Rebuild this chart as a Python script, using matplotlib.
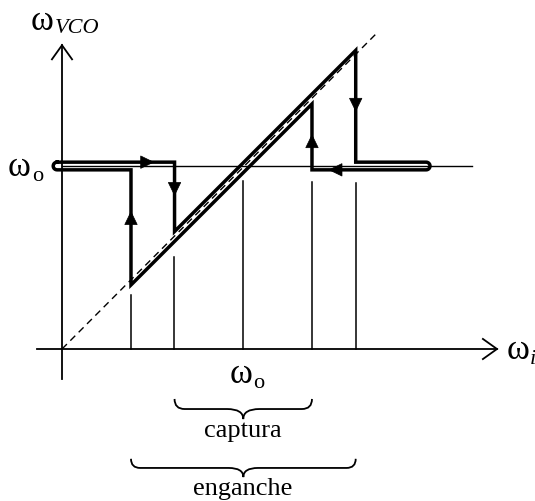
import numpy as np
import matplotlib
matplotlib.use("Agg")
import matplotlib.pyplot as plt
from matplotlib.patches import Polygon, PathPatch
from matplotlib.path import Path

# values in units of the free-running frequency (w0 = 1)
w0 = 1.0
lock = [0.377, 1.605]      # enganche
capture = [0.615, 1.366]   # captura
guide_x = [0.377, 0.612, 0.99, 1.366, 1.607]
guide_top = [0.295, 0.503, 0.918, 0.913, 0.905]
sweep_end = [-0.027, 1.99]  # hairpin ends of the w0 plateau
dh = 0.021                  # half gap between forward / reverse branches
dd = 0.027                  # offset of the branches from the ideal line

PX = 183.0  # pixels per unit
plt.rcParams['font.family'] = ['Liberation Serif', 'DejaVu Serif']

fig = plt.figure(figsize=(5.35, 5.02), dpi=100)
ax = fig.add_axes([0, 0, 1, 1])
ax.set_xlim(-62 / PX, (535 - 62) / PX)
ax.set_ylim(-(502 - 350) / PX, 350 / PX)
ax.axis('off')

def tri(tip, d, L=0.07, W=0.034):
    tip = np.array(tip); d = np.array(d, float)
    n = np.array([-d[1], d[0]])
    base = tip - L * d
    pts = [tip, base + W * n, base - W * n]
    ax.add_patch(Polygon(pts, closed=True, fc='black', ec='black', lw=0.5, zorder=5))

def open_head(tip, d, L=0.077, W=0.055):
    tip = np.array(tip); d = np.array(d, float)
    n = np.array([-d[1], d[0]])
    base = tip - L * d
    ax.plot([base[0] + W * n[0], tip[0], base[0] - W * n[0]],
            [base[1] + W * n[1], tip[1], base[1] - W * n[1]], color='black', lw=1.3,
            solid_joinstyle='miter')

# axes
ax.plot([-0.137, 2.377], [0, 0], color='black', lw=1.3)
open_head((2.377, 0), (1, 0))
ax.plot([0, 0], [-0.164, 1.66], color='black', lw=1.3)
open_head((0, 1.66), (0, 1))

# w0 reference line
ax.plot([0, 2.24], [w0, w0], color='black', lw=1.0)

# ideal line w_vco = w_i
ax.plot([0, 1.727], [0, 1.733], color='black', lw=1.0, ls=(0, (5, 3.5)))

# guide lines
for gx, gt in zip(guide_x, guide_top):
    ax.plot([gx, gx], [0, gt], color='black', lw=1.1)

# closed hairpin path: forward sweep (upper) then reverse sweep (lower)
t = np.linspace(np.pi / 2, -np.pi / 2, 12)
r = dh
right_arc = np.c_[sweep_end[1] + r * np.cos(t), w0 + r * np.sin(t)]
left_arc = np.c_[sweep_end[0] - r * np.cos(t), w0 - r * np.sin(t)]
fwd = [(sweep_end[0], w0 + dh), (capture[0], w0 + dh), (capture[0], capture[0] + dd),
       (lock[1], lock[1] + dd), (lock[1], w0 + dh)]
rev = [(capture[1], w0 - dh), (capture[1], capture[1] - dd),
       (lock[0], lock[0] - dd), (lock[0], w0 - dh)]
pts = np.vstack([fwd, right_arc, rev, left_arc])
ax.plot(pts[:, 0], pts[:, 1], color='black', lw=2.5, solid_joinstyle='miter', zorder=4)

# direction arrows
tri((0.50, w0 + dh), (1, 0))
tri((capture[0], 0.84), (0, -1))
tri((lock[0], 0.75), (0, 1))
tri((capture[1], 1.17), (0, 1))
tri((lock[1], 1.30), (0, -1))
tri((1.46, w0 - dh), (-1, 0))

# braces
def brace(x0, x1, ytop, h):
    xm = (x0 + x1) / 2
    ymid = ytop - h / 2
    yb = ytop - h
    k = h / 2
    verts = [(x0, ytop), (x0, ymid), (x0 + k, ymid), (x0 + 1.6 * k, ymid),
             (xm - 1.6 * k, ymid), (xm, ymid), (xm, yb),
             (xm, ymid), (xm + 1.6 * k, ymid),
             (x1 - 1.6 * k, ymid), (x1 - k, ymid), (x1, ymid), (x1, ytop)]
    codes = [Path.MOVETO, Path.CURVE3, Path.CURVE3, Path.LINETO,
             Path.LINETO, Path.CURVE3, Path.CURVE3,
             Path.CURVE3, Path.CURVE3,
             Path.LINETO, Path.LINETO, Path.CURVE3, Path.CURVE3]
    ax.add_patch(PathPatch(Path(verts, codes), fc='none', ec='black', lw=1.3))

brace(capture[0], capture[1], -0.273, 0.11)
brace(lock[0], lock[1], -0.60, 0.10)

# labels
ax.text(-0.170, 1.749, 'ω', fontsize=25, ha='left', va='baseline')
ax.text(-0.038, 1.730, 'VCO', fontsize=16, style='italic', ha='left', va='baseline')
ax.text(-0.295, 0.953, 'ω', fontsize=25, ha='left', va='baseline')
ax.text(-0.165, 0.925, 'o', fontsize=16, ha='left', va='baseline')
ax.text(0.915, -0.18, 'ω', fontsize=25, ha='left', va='baseline')
ax.text(1.045, -0.205, 'o', fontsize=16, ha='left', va='baseline')
ax.text(2.43, -0.05, 'ω', fontsize=25, ha='left', va='baseline')
ax.text(2.555, -0.075, 'i', fontsize=16, style='italic', ha='left', va='baseline')
ax.text(0.99, -0.475, 'captura', fontsize=19, ha='center', va='baseline')
ax.text(0.99, -0.79, 'enganche', fontsize=19, ha='center', va='baseline')

fig.savefig('out.png', dpi=100)
